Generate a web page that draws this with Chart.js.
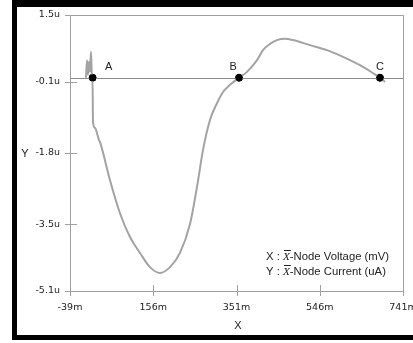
<!DOCTYPE html>
<html>
<head>
<meta charset="utf-8">
<script src="https://cdn.jsdelivr.net/npm/chart.js@4"></script>
<style>
  html, body { margin: 0; padding: 0; background: #fff; }
  canvas { display: block; }
</style>
</head>
<body>
<canvas id="myChart" width="413" height="343"></canvas>
<script>
// curve: x in mV (m), y in uA (u)
const xVals = [-1.5, 0.8, 3.2, 5.5, 7.8, 10.2, 12.5, 13.7, 14.9, 19.6, 28.9, 31.3, 54.7, 78.1, 101.5, 125, 148.4, 171.8, 195.2, 218.6, 242.1, 258.5, 272.5, 288.9, 305.3, 319.4, 335.8, 356.8, 375.6, 399, 413, 429.5, 445.8, 464.6, 483.3, 523.2, 563, 600.4, 640.3, 670.7, 687.1, 698.8];
const yVals = [0.0, 0.42, 0.07, 0.38, 0.14, 0.62, 0.0, 0.0, -1.06, -1.20, -1.49, -1.54, -2.45, -3.24, -3.81, -4.19, -4.53, -4.67, -4.53, -4.19, -3.50, -2.61, -1.73, -1.01, -0.61, -0.34, -0.17, 0.0, 0.14, 0.42, 0.66, 0.81, 0.90, 0.93, 0.90, 0.78, 0.66, 0.50, 0.30, 0.11, 0.0, -0.10];

const markerX = [14, 357, 687];
const markerY = [0, 0, 0];
const markerLabels = ['A', 'B', 'C'];

const xTicks = [-39, 156, 351, 546, 741];
const yTicks = [-5.1, -3.5, -1.8, -0.1, 1.5];

const noteLines = [['X : ', '-Node Voltage (mV)'], ['Y : ', '-Node Current (uA)']];

const ctx = document.getElementById('myChart');

const extras = {
    id: 'extras',
    afterDraw(chart) {
        const c = chart.ctx;
        const a = chart.chartArea;
        const xs = chart.scales.x, ys = chart.scales.y;
        c.save();
        // zero line
        const y0 = Math.round(ys.getPixelForValue(0)) + 0.5;
        c.strokeStyle = '#8c8c8c';
        c.lineWidth = 1;
        c.beginPath();
        c.moveTo(a.left, y0);
        c.lineTo(a.right, y0);
        c.stroke();
        // frame
        c.strokeStyle = '#a0a0a0';
        c.beginPath();
        c.rect(Math.round(a.left) + 0.5, Math.round(a.top) + 0.5, Math.round(a.right - a.left), Math.round(a.bottom - a.top));
        c.stroke();
        // ticks crossing the axes
        c.beginPath();
        xs.ticks.forEach(t => {
            const px = Math.round(xs.getPixelForValue(t.value)) + 0.5;
            c.moveTo(px, a.bottom - 6);
            c.lineTo(px, a.bottom + 5);
        });
        ys.ticks.forEach(t => {
            const py = Math.round(ys.getPixelForValue(t.value)) + 0.5;
            c.moveTo(a.left - 5, py);
            c.lineTo(a.left + 7, py);
        });
        c.stroke();
        // redraw markers over lines
        c.fillStyle = '#000';
        markerX.forEach((mx, i) => {
            c.beginPath();
            c.arc(xs.getPixelForValue(mx), ys.getPixelForValue(markerY[i]), 3.5, 0, Math.PI * 2);
            c.fill();
        });
        // marker labels
        c.fillStyle = '#222';
        c.font = '11px "Liberation Sans", Arial, sans-serif';
        c.textAlign = 'center';
        c.textBaseline = 'middle';
        const offs = [[16, -11], [-6, -11], [0, -11]];
        markerX.forEach((mx, i) => {
            c.fillText(markerLabels[i], xs.getPixelForValue(mx) + offs[i][0], ys.getPixelForValue(markerY[i]) + offs[i][1]);
        });
        // axis titles
        c.fillText('Y', 25, 154);
        c.fillText('X', 238, 326);
        // legend note, with italic X and overbar
        c.textAlign = 'left';
        const reg = '11.3px "Liberation Sans", Arial, sans-serif';
        const ita = 'italic 11.3px "Liberation Serif", serif';
        noteLines.forEach((ln, i) => {
            const ty = 257 + i * 15;
            let tx = 266;
            c.font = reg;
            c.fillText(ln[0], tx, ty);
            tx += c.measureText(ln[0]).width;
            c.font = ita;
            c.fillText('X', tx, ty);
            const w = c.measureText('X').width;
            c.strokeStyle = '#222';
            c.beginPath();
            c.moveTo(tx + 1, ty - 6.5);
            c.lineTo(tx + w + 1, ty - 6.5);
            c.stroke();
            tx += w;
            c.font = reg;
            c.fillText(ln[1], tx, ty);
        });
        // black outer border
        c.fillStyle = '#000';
        c.fillRect(12, 0, 401, 7);
        c.fillRect(12, 0, 5, 340);
        c.fillRect(12, 335, 401, 5);
        c.restore();
    }
};

const config = {
    type: 'scatter',
    data: {
        datasets: [{
            label: 'curve',
            data: xVals.map((x, i) => ({ x: x, y: yVals[i] })),
            showLine: true,
            borderColor: '#a3a3a3',
            borderWidth: 2,
            pointRadius: 0,
            cubicInterpolationMode: 'monotone'
        }, {
            label: 'markers',
            data: markerX.map((x, i) => ({ x: x, y: markerY[i] })),
            pointRadius: 3.5,
            backgroundColor: '#000',
            borderColor: '#000'
        }]
    },
    options: {
        responsive: false,
        animation: false,
        layout: { padding: { left: 0, top: 15, right: 10, bottom: 0 } },
        plugins: { legend: { display: false }, tooltip: { enabled: false } },
        scales: {
            x: {
                type: 'linear',
                min: -39,
                max: 741,
                afterBuildTicks: (s) => { s.ticks = xTicks.map(v => ({ value: v })); },
                afterFit: (s) => { s.height = 52; s.paddingLeft = 0; s.paddingRight = 0; },
                grid: { drawOnChartArea: false, drawTicks: false, color: 'transparent' },
                border: { display: false },
                ticks: {
                    padding: 11,
                    maxRotation: 0,
                    color: '#222',
                    font: { family: 'DejaVu Sans', size: 9.5 },
                    callback: (v) => v + 'm'
                }
            },
            y: {
                type: 'linear',
                min: -5.1,
                max: 1.5,
                afterBuildTicks: (s) => { s.ticks = yTicks.map(v => ({ value: v })); },
                afterFit: (s) => { s.width = 70; s.paddingTop = 0; s.paddingBottom = 0; },
                grid: { drawOnChartArea: false, drawTicks: false, color: 'transparent' },
                border: { display: false },
                ticks: {
                    padding: 10,
                    color: '#222',
                    font: { family: 'DejaVu Sans', size: 9.5 },
                    callback: (v) => v + 'u'
                }
            }
        }
    },
    plugins: [extras]
};

const myChart = new Chart(ctx, config);
</script>
</body>
</html>
